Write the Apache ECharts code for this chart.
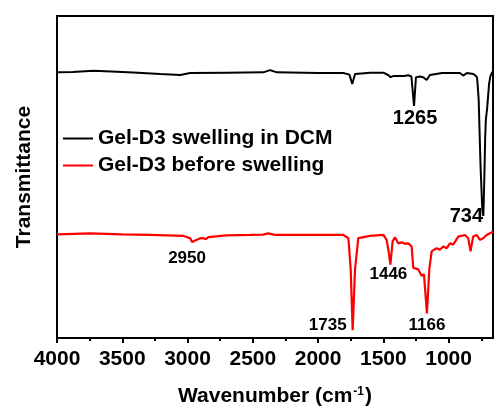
<!DOCTYPE html>
<html>
<head>
<meta charset="utf-8">
<script src="https://cdn.jsdelivr.net/npm/echarts@6/dist/echarts.min.js"></script>
<style>
  html, body { margin: 0; padding: 0; background: #fff; }
  #chart { width: 494px; height: 412px; }
</style>
</head>
<body>
<div id="chart"></div>
<script>
// FTIR spectra of Gel-D3: wavenumber (cm-1) and transmittance (offset, a.u.)
const seriesNames = ['Gel-D3 swelling in DCM', 'Gel-D3 before swelling'];

const dcmWavenumber = [4000, 3880, 3720, 3541, 3380, 3209, 3056, 2980, 2700, 2419, 2368, 2316, 2000, 1807, 1760, 1738, 1717, 1600, 1500, 1460, 1444, 1420, 1398, 1340, 1309, 1285, 1265, 1250, 1220, 1195, 1168, 1143, 1050, 914, 888, 860, 810, 786, 781, 770, 755, 742, 734, 728, 720, 715, 712, 705, 690, 680, 665, 660];
const dcmTransmittance = [82.5, 82.6, 83.0, 82.7, 82.4, 82.0, 81.7, 82.3, 82.4, 82.5, 83.2, 82.5, 82.3, 82.3, 81.8, 78.9, 82.0, 82.4, 82.4, 81.6, 81.0, 81.4, 81.4, 81.4, 81.6, 81.2, 72.1, 81.0, 81.2, 81.0, 80.1, 81.7, 82.3, 82.3, 81.5, 82.3, 82.0, 81.2, 80.4, 74.3, 52.9, 40.0, 37.9, 46.8, 62.1, 67.6, 68.8, 71.3, 78.9, 81.3, 82.6, 82.7];

const gelWavenumber = [4000, 3745, 3500, 3286, 3031, 2980, 2965, 2950, 2929, 2900, 2878, 2860, 2840, 2827, 2700, 2521, 2420, 2381, 2340, 2316, 2000, 1807, 1768, 1750, 1735, 1717, 1692, 1602, 1500, 1475, 1460, 1446, 1429, 1411, 1386, 1360, 1334, 1309, 1283, 1271, 1233, 1207, 1189, 1166, 1148, 1130, 1118, 1092, 1067, 1041, 1015, 990, 965, 926, 875, 850, 832, 812, 786, 760, 735, 709, 684, 660];
const gelTransmittance = [32.2, 32.5, 32.2, 32.0, 31.7, 31.0, 29.8, 29.4, 30.5, 31.0, 31.0, 30.7, 31.3, 31.7, 31.9, 32.0, 32.1, 32.5, 32.1, 32.0, 32.0, 32.0, 31.0, 21.3, 2.4, 21.3, 31.0, 31.7, 32.0, 30.5, 27.0, 22.8, 30.0, 31.3, 29.4, 29.7, 29.3, 29.4, 28.4, 21.8, 21.3, 19.3, 19.8, 7.6, 21.3, 26.9, 27.4, 27.9, 27.4, 28.4, 27.9, 29.4, 29.0, 31.5, 32.0, 31.0, 26.9, 31.5, 32.0, 30.5, 31.0, 32.0, 32.5, 33.0];

// Band assignments labelled on each spectrum
const dcmPeaks = [1265, 734];
const gelPeaks = [2950, 1735, 1446, 1166];

// Axis ticks
const majorTicks = [4000, 3500, 3000, 2500, 2000, 1500, 1000];
const minorTicks = [3750, 3250, 2750, 2250, 1750, 1250, 750];
const xRange = [660, 4000];

const FONT = 'Liberation Sans';

function pairs(xs, ys) {
  return xs.map((x, i) => [x, ys[i]]);
}

function peakMarks(peaks, xs, ys, offsets, size) {
  return peaks.map((p, k) => ({
    coord: [p, ys[xs.indexOf(p)]],
    label: {
      show: true,
      position: 'inside',
      offset: offsets[k],
      formatter: String(p),
      fontFamily: FONT,
      fontWeight: 'bold',
      fontSize: size,
      color: '#000'
    }
  }));
}

const chart = echarts.init(document.getElementById('chart'), null, { renderer: 'canvas' });

const option = {
  animation: false,
  textStyle: { fontFamily: FONT },
  grid: {
    left: 57, right: 1, top: 16, bottom: 69,
    show: true, borderColor: '#000', borderWidth: 2, backgroundColor: 'transparent'
  },
  legend: {
    orient: 'vertical',
    left: 63,
    top: 128,
    padding: 0,
    icon: 'rect',
    itemWidth: 30,
    itemHeight: 2,
    itemGap: 6,
    textStyle: { fontFamily: FONT, fontWeight: 'bold', fontSize: 21, color: '#000' },
    data: seriesNames
  },
  xAxis: [
    {
      type: 'value',
      inverse: true,
      min: xRange[0],
      max: xRange[1],
      position: 'bottom',
      axisLine: { lineStyle: { color: '#000', width: 2 } },
      axisTick: { show: true, customValues: majorTicks, length: 5, lineStyle: { color: '#000', width: 2 } },
      axisLabel: {
        customValues: majorTicks,
        formatter: v => String(v),
        margin: 11,
        fontFamily: FONT, fontWeight: 'bold', fontSize: 21, color: '#000'
      },
      splitLine: { show: false },
      name: '{a|Wavenumber (cm}{s|-1}{a|)}',
      nameLocation: 'middle',
      nameGap: 48,
      nameTextStyle: {
        rich: {
          a: { fontFamily: FONT, fontWeight: 'bold', fontSize: 21, color: '#000' },
          s: { fontFamily: FONT, fontWeight: 'bold', fontSize: 12, color: '#000', verticalAlign: 'top', padding: [0, 1, 0, 1] }
        }
      }
    },
    {
      type: 'value',
      inverse: true,
      min: xRange[0],
      max: xRange[1],
      position: 'bottom',
      axisLine: { show: false },
      axisTick: { show: true, customValues: minorTicks, length: 3, lineStyle: { color: '#000', width: 2 } },
      axisLabel: { show: false },
      splitLine: { show: false }
    }
  ],
  yAxis: {
    type: 'value',
    min: 0,
    max: 100,
    axisLine: { show: true, lineStyle: { color: '#000', width: 2 } },
    axisTick: { show: false },
    axisLabel: { show: false },
    splitLine: { show: false },
    name: 'Transmittance',
    nameLocation: 'middle',
    nameGap: 22,
    nameTextStyle: { fontFamily: FONT, fontWeight: 'bold', fontSize: 21, color: '#000' }
  },
  series: [
    {
      name: seriesNames[0],
      type: 'line',
      xAxisIndex: 0,
      symbol: 'none',
      color: '#000',
      lineStyle: { color: '#000', width: 2 },
      data: pairs(dcmWavenumber, dcmTransmittance),
      markPoint: {
        symbol: 'circle',
        symbolSize: 1,
        itemStyle: { color: 'rgba(0,0,0,0)' },
        data: peakMarks(dcmPeaks, dcmWavenumber, dcmTransmittance, [[1, 13], [-17, 1]], 20)
      }
    },
    {
      name: seriesNames[1],
      type: 'line',
      xAxisIndex: 0,
      symbol: 'none',
      color: '#ff0000',
      lineStyle: { color: '#ff0000', width: 2.2 },
      data: pairs(gelWavenumber, gelTransmittance),
      markPoint: {
        symbol: 'circle',
        symbolSize: 1,
        itemStyle: { color: 'rgba(0,0,0,0)' },
        data: peakMarks(gelPeaks, gelWavenumber, gelTransmittance, [[-7, 15], [-25, -5], [-2, 10], [0, 12]], 17)
      }
    }
  ]
};

chart.setOption(option);
</script>
</body>
</html>
